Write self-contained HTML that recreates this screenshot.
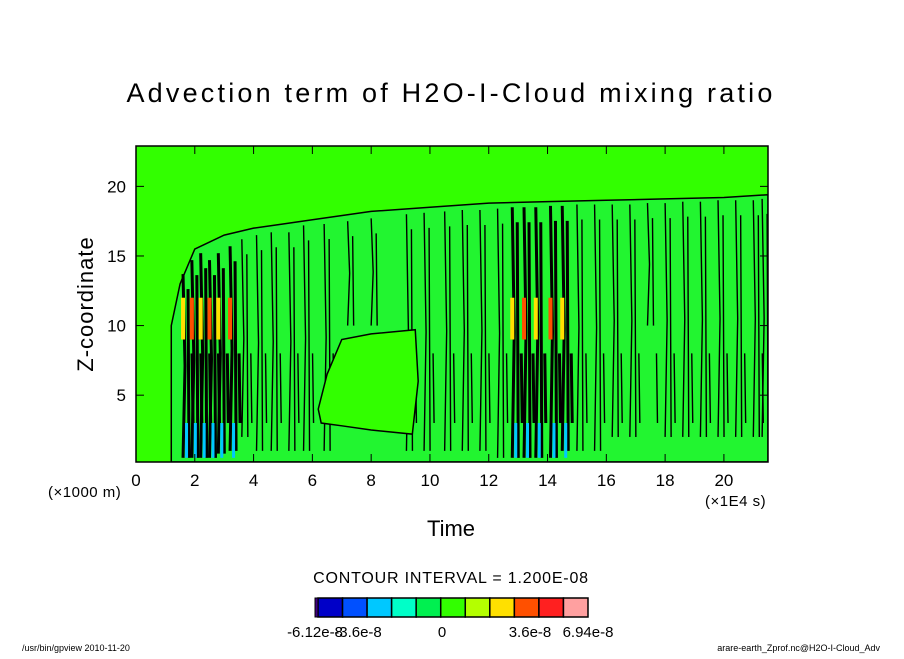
<!DOCTYPE html>
<html><head><meta charset="utf-8"><style>
body{margin:0;background:#fff;}
svg text{font-family:"Liberation Sans","DejaVu Sans",sans-serif;fill:#000;}
</style></head><body>
<svg id="c" width="904" height="654" viewBox="0 0 904 654" xmlns="http://www.w3.org/2000/svg">
<defs><clipPath id="pc"><rect x="136" y="146" width="632" height="316"/></clipPath></defs>
<text x="451" y="102" font-size="27" text-anchor="middle" letter-spacing="3.2">Advection term of H2O-I-Cloud mixing ratio</text>
<g id="plot" clip-path="url(#pc)"></g>
<g id="axes"></g>
<text transform="translate(93,304) rotate(-90)" font-size="22" text-anchor="middle" letter-spacing="1">Z-coordinate</text>
<text x="451" y="536" font-size="22" text-anchor="middle">Time</text>
<text x="48" y="497" font-size="15" letter-spacing="0.5">(×1000 m)</text>
<text x="705" y="506" font-size="15" letter-spacing="0.5">(×1E4 s)</text>
<text x="451" y="583" font-size="16" text-anchor="middle" letter-spacing="0.8">CONTOUR INTERVAL = 1.200E-08</text>
<g id="cbar"></g>
<text x="22" y="651" font-size="9">/usr/bin/gpview  2010-11-20</text>
<text x="880" y="651" font-size="9" text-anchor="end">arare-earth_Zprof.nc@H2O-I-Cloud_Adv</text>
</svg>
<script>
const xTicks=[0,2,4,6,8,10,12,14,16,18,20];
const yTicks=[5,10,15,20];
const topTimes=[1.2,1.5,2,3,4,5,6,8,10,12,14,16,18,20,21.5];
const topHeights=[10,13,15.5,16.5,17,17.3,17.6,18.2,18.5,18.8,18.9,19,19.1,19.2,19.4];
const holeTimes=[6.2,6.5,7,8,9,9.5,9.6,9.4,8,7,6.3];
const holeTops=[4,6.5,9,9.4,9.6,9.7,6,2.2,2.5,2.8,3];
const cellTimes=[1.6,1.9,2.2,2.5,2.8,3.2,3.6,4.1,4.6,5.2,5.7,6.4,7.2,8,9.2,9.8,10.5,11.1,11.7,12.3,12.8,13.2,13.6,14.1,14.5,15,15.6,16.2,16.8,17.4,18,18.6,19.2,19.8,20.4,21,21.3];
const cellBottoms=[0.5,0.5,0.5,0.5,0.8,1,2,1,1,1,1,1,10,10,1,1,1,1,1,0.5,0.5,0.5,0.5,0.5,1,1,1,2,2,10,2,2,2,2,2,2,2];
const cellTops=[14,15,15.5,15,15.5,16,16.5,16.8,17,17,17.5,17.6,17.8,18,18.3,18.4,18.5,18.6,18.6,18.7,18.8,18.8,18.8,18.9,18.9,19,19,19,19,19.1,19.1,19.2,19.2,19.3,19.3,19.3,19.4];
const barColors=["#0000c8","#0050ff","#00c8ff","#00ffc8","#00f050","#32ff00","#b4ff00","#ffe000","#ff5000","#ff2020","#ffa0a0"];
const barLabels=["-6.12e-8","-3.6e-8","0","3.6e-8","6.94e-8"];
const NS="http://www.w3.org/2000/svg";
const L=136,R=768,T=146,B=462,xmax=21.5,zmin=0.2,zmax=22.9;
const sx=v=>L+(v/xmax)*(R-L), sy=v=>B-((v-zmin)/(zmax-zmin))*(B-T);
const g=document.getElementById('plot');
const ax=document.getElementById('axes');
function mk(t,a,p){const e=document.createElementNS(NS,t);for(const k in a)e.setAttribute(k,a[k]);(p||g).appendChild(e);return e;}
let r=mk('rect',{x:L,y:T,width:R-L,height:B-T,fill:'#32ff00'});


let pts=[sx(topTimes[0])+','+sy(zmin)];
topTimes.forEach((t,i)=>pts.push(sx(t)+','+sy(topHeights[i])));
pts.push(sx(xmax)+','+sy(zmin));
let cl=mk('polygon',{points:pts.join(' '),fill:'#22f530',stroke:'#000','stroke-width':1.5});


cellTimes.forEach((t,i)=>{
  const x=sx(t),y1=sy(cellTops[i]-0.3),y2=sy(cellBottoms[i]);
  const active=(t<3.3)||(t>12.5&&t<14.8);
  const w=active?3:1.4;
  let l=mk('path',{d:`M${x},${y2} L${x+2},${(y1+y2)/2} L${x},${y1} M${x+6},${y2} L${x+5},${y1+15} M${x+10},${sy(3)} L${x+9},${sy(8)}`,stroke:'#000','stroke-width':w,fill:'none'});
  
  
  if(active){
    let c=mk('rect',{x:x-2,y:sy(12),width:4,height:sy(9)-sy(12),fill:i%2?'#ff5000':'#ffe000'});
    
    
    let d=mk('rect',{x:x+2,y:sy(3),width:3,height:sy(0.5)-sy(3),fill:'#00c8ff'});
    
    
  }
});
let hp=holeTimes.map((t,i)=>sx(t)+','+sy(holeTops[i]));
let ho=mk('polygon',{points:hp.join(' '),fill:'#32ff00',stroke:'#000','stroke-width':1.5});


let fr=mk('rect',{x:L,y:T,width:R-L,height:B-T,fill:'none',stroke:'#000','stroke-width':1.5},ax);


xTicks.forEach(v=>{
  mk('line',{x1:sx(v),x2:sx(v),y1:B,y2:B-8,stroke:'#000'},ax);
  mk('line',{x1:sx(v),x2:sx(v),y1:T,y2:T+8,stroke:'#000'},ax);
  let t=mk('text',{x:sx(v),y:B+24,'font-size':17,'text-anchor':'middle'},ax);t.textContent=v;
  
  
});
yTicks.forEach(v=>{
  mk('line',{x1:L,x2:L+8,y1:sy(v),y2:sy(v),stroke:'#000'},ax);
  mk('line',{x1:R,x2:R-8,y1:sy(v),y2:sy(v),stroke:'#000'},ax);
  let t=mk('text',{x:L-10,y:sy(v)+6,'font-size':17,'text-anchor':'end'},ax);t.textContent=v;
  
  
});
const cb=document.getElementById('cbar');
const bx=318,bw=(588-318)/barColors.length;
barColors.forEach((c,i)=>{
  let b=mk('rect',{x:bx+i*bw,y:598,width:bw,height:19,fill:c,stroke:'#000','stroke-width':1.5},cb);
  
  
});
mk('rect',{x:315,y:598,width:3,height:19,fill:'#400080',stroke:'#000'},cb);
const lx=[315,358,442,530,588];
barLabels.forEach((s,i)=>{
  let t=mk('text',{x:lx[i],y:637,'font-size':15,'text-anchor':'middle'},cb);t.textContent=s;
  
  
});
</script>
</body></html>
